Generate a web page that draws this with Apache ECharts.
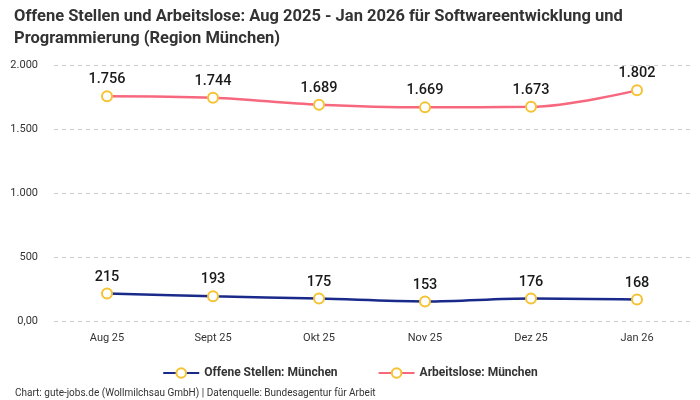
<!DOCTYPE html>
<html><head><meta charset="utf-8">
<script src="https://cdn.jsdelivr.net/npm/echarts@6/dist/echarts.min.js"></script>
<style>html,body{margin:0;padding:0;background:#fff}#c{width:700px;height:400px}</style>
</head><body><div id="c"></div>
<script>
const categories = ['Aug 25','Sept 25','Okt 25','Nov 25','Dez 25','Jan 26'];
const offeneStellen = [215,193,175,153,176,168];
const arbeitslose = [1756,1744,1689,1669,1673,1802];
const yTicks = [0,500,1000,1500,2000];

const fmt = v => v === 0 ? '0,00' : String(v).replace(/\B(?=(\d{3})+(?!\d))/g, '.');
const chart = echarts.init(document.getElementById('c'));
const FONT = 'Roboto';
function mk(name, data, color){
  return {
    name, type:'line', data, smooth:0.35,
    lineStyle:{color, width:2.5},
    itemStyle:{color:'#fff', borderColor:'#f5c232', borderWidth:2},
    symbol:'circle', symbolSize:10,
    label:{show:true, position:'top', distance:3, color:'#1a1a1a', fontSize:14.5, fontFamily:FONT, fontWeight:500, formatter:p=>fmt(p.value)},
    emphasis:{disabled:true}
  };
}
chart.setOption({
  animation:false,
  title:[{
    text:'Offene Stellen und Arbeitslose: Aug 2025 - Jan 2026 für Softwareentwicklung und\nProgrammierung (Region München)',
    left:9, top:1,
    textStyle:{fontFamily:FONT, fontWeight:'bold', fontSize:16.5, color:'#333', lineHeight:22}
  },{
    text:'Chart: gute-jobs.de (Wollmilchsau GmbH) | Datenquelle: Bundesagentur für Arbeit',
    left:10, top:383,
    textStyle:{fontFamily:FONT, fontWeight:'normal', fontSize:10, color:'#333'}
  }],
  legend:{
    bottom:16, left:'center', itemGap:40, itemWidth:36, itemHeight:12,
    textStyle:{fontFamily:FONT, fontWeight:'bold', fontSize:12, color:'#333'},
    data:['Offene Stellen: München','Arbeitslose: München']
  },
  grid:{left:54, right:10, top:65, bottom:79},
  xAxis:{
    type:'category', data:categories,
    axisLine:{show:false}, axisTick:{show:false},
    axisLabel:{fontFamily:FONT, fontSize:11, color:'#333', margin:12}
  },
  yAxis:{
    type:'value', min:yTicks[0], max:yTicks[yTicks.length-1], interval:500,
    axisLabel:{fontFamily:FONT, fontSize:11, color:'#333', formatter:fmt, margin:16},
    splitLine:{lineStyle:{type:[4,4], color:'#ccc'}}
  },
  series:[mk('Offene Stellen: München', offeneStellen, '#1a2a8a'), mk('Arbeitslose: München', arbeitslose, '#f7687f')]
});
</script></body></html>
